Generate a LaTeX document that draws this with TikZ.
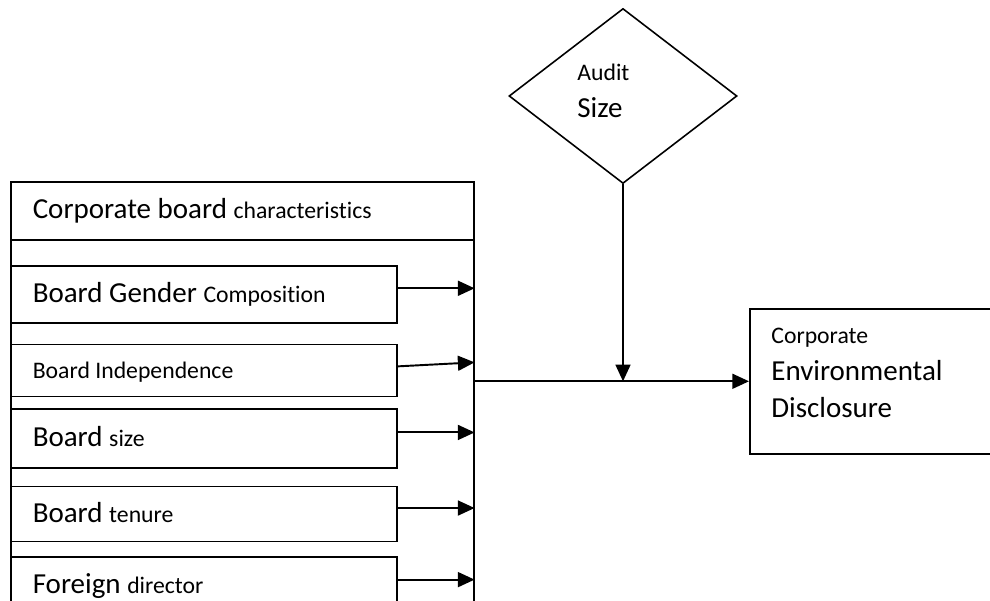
\documentclass[tikz,border=0pt]{standalone}
\usepackage{fontspec}
\setmainfont{Carlito}[Ligatures=NoCommon]
\usepackage{tikz}
\usetikzlibrary{arrows.meta,positioning,calc,shapes.geometric}
\newcommand{\lgtxt}{\fontsize{16.5}{21}\selectfont}
\newcommand{\smtxt}{\fontsize{13.5}{21}\selectfont}

\begin{document}
\begin{tikzpicture}[
    box/.style={draw, line width=0.9pt, rectangle, anchor=north west, inner xsep=0.44cm, inner ysep=0pt,
      align=flush left, text height=0.4cm, text depth=0.08cm},
    factor/.style={box, text width=6.84cm},
    flow/.style={-{Triangle[length=9.5pt,width=8.5pt]}, line width=1.1pt},
    font=\lgtxt]
  \useasboundingbox (0,0) rectangle (19.8,12);
  \clip (0,0) rectangle (19.8,12);

  % Board characteristics frame
  \node[box, minimum width=9.26cm, minimum height=8.9cm] (board) at (0.2,8.38) {};
  \node[box, text width=8.38cm, minimum height=1.16cm] (header) at (board.north west)
    {Corporate board {\smtxt characteristics}};

  % Factors
  \node[factor, minimum height=1.14cm] (gender) at (0.2,6.70) {Board Gender {\smtxt Composition}};
  \node[factor, minimum height=1.04cm, below=0.40cm of gender] (indep) {{\smtxt Board Independence}};
  \node[factor, minimum height=1.18cm, below=0.22cm of indep] (bsize) {Board {\smtxt size}};
  \node[factor, minimum height=1.10cm, below=0.34cm of bsize] (tenure) {Board {\smtxt tenure}};
  \node[factor, minimum height=1.14cm, below=0.28cm of tenure] (foreign) {Foreign {\smtxt director}};

  % Moderator and outcome
  \node[draw, diamond, line width=0.9pt, minimum width=4.56cm, minimum height=3.5cm, inner sep=0pt]
    (audit) at (12.46,10.08) {};
  \node[anchor=north west, inner sep=0pt, align=left] (audittxt)
    at ([xshift=-0.92cm, yshift=0.65cm]audit.center) {{\smtxt Audit}\\Size};
  \node[box, minimum width=6cm, minimum height=2.9cm] (ced) at (14.98,5.84) {};
  \node[anchor=north west, inner sep=0pt, align=left] (cedtxt)
    at ([xshift=0.44cm, yshift=-0.40cm]ced.north west) {{\smtxt Corporate}\\Environmental\\Disclosure};

  % Arrows into the frame
  \foreach \f in {gender, bsize, tenure, foreign}
    \draw[flow] ([yshift=0.12cm]\f.east) -- ([yshift=0.12cm]\f.east -| board.east);
  \draw[flow] ([yshift=0.08cm]indep.east) -- ([yshift=0.16cm]indep.east -| board.east);

  % Main path
  \draw[flow] (ced.west -| board.east) -- (ced.west);
  \draw[flow] (audit.south) -- (audit.south |- ced.west);
\end{tikzpicture}
\end{document}
